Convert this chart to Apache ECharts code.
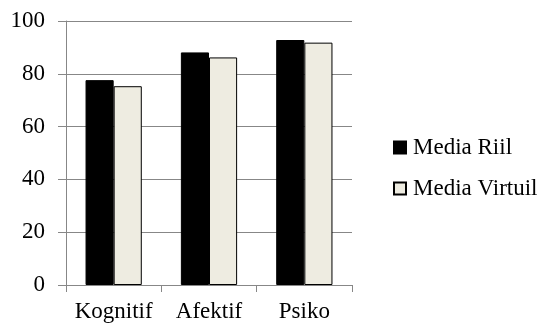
<!DOCTYPE html>
<html>
<head>
<meta charset="utf-8">
<script src="https://cdn.jsdelivr.net/npm/echarts@6/dist/echarts.min.js"></script>
<style>
  html, body { margin: 0; padding: 0; background: #fff; }
  #chart { width: 544px; height: 324px; }
</style>
</head>
<body>
<div id="chart"></div>
<script>
// data
var categories = ['Kognitif', 'Afektif', 'Psiko']
var mediaRiil = [77.6, 88.1, 92.8]
var mediaVirtuil = [75.3, 86.2, 91.8]
var seriesNames = ['Media Riil', 'Media Virtuil']

var chart = echarts.init(document.getElementById('chart'))
var font = '"Liberation Serif"'

var option = {
  animation: false,
  textStyle: { fontFamily: font, color: '#000' },
  grid: { left: 66, right: 192, top: 21, bottom: 39, containLabel: false },
  legend: {
    orient: 'vertical',
    left: 388,
    top: 131,
    icon: 'rect',
    itemWidth: 12,
    itemHeight: 12,
    itemGap: 18,
    textStyle: { fontFamily: font, fontSize: 23, color: '#000', padding: [0, 0, 0, 2] },
    data: seriesNames
  },
  xAxis: {
    type: 'category',
    data: categories,
    axisLine: { lineStyle: { color: '#878787', width: 1 } },
    axisTick: { show: true, length: 7, lineStyle: { color: '#878787' } },
    axisLabel: { fontFamily: font, fontSize: 23, color: '#000', margin: 15, interval: 0, hideOverlap: false }
  },
  yAxis: {
    type: 'value',
    min: 0,
    max: 100,
    interval: 20,
    axisLine: { show: true, lineStyle: { color: '#878787', width: 1 } },
    axisTick: { show: true, length: 8, lineStyle: { color: '#878787' } },
    axisLabel: { fontFamily: font, fontSize: 23, color: '#000', margin: 21 },
    splitLine: { show: true, lineStyle: { color: '#878787', width: 1 } }
  },
  series: [
    {
      name: seriesNames[0],
      type: 'bar',
      data: mediaRiil,
      barGap: '0%',
      barCategoryGap: '41%',
      itemStyle: { color: '#000', borderColor: '#000', borderWidth: 1 }
    },
    {
      name: seriesNames[1],
      type: 'bar',
      data: mediaVirtuil,
      itemStyle: { color: '#eeece1', borderColor: '#000', borderWidth: 1 }
    }
  ]
}
chart.setOption(option)
</script>
</body>
</html>
